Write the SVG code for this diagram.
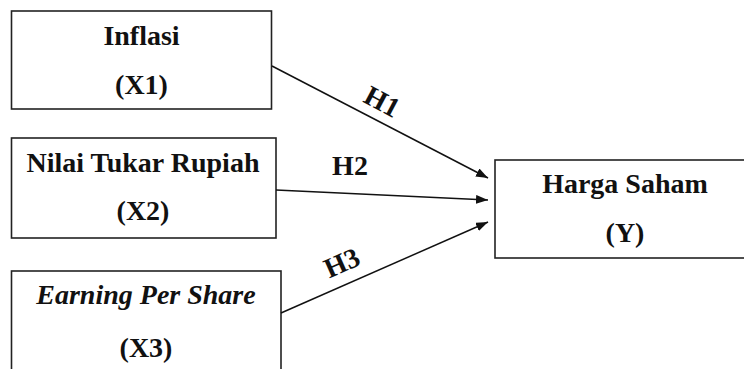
<svg xmlns="http://www.w3.org/2000/svg" width="744" height="369" viewBox="0 0 744 369">
<style>
.box{fill:#fff;stroke:#222;stroke-width:1.6}
.t{font-family:"Liberation Serif","Times New Roman",serif;font-weight:bold;font-size:28px;fill:#111;text-anchor:middle}
.it{font-style:italic}
.c{stroke:#111;stroke-width:1.5;fill:none;marker-end:url(#ah)}
</style>
<defs>
<marker id="ah" markerUnits="userSpaceOnUse" markerWidth="13" markerHeight="10" refX="12" refY="4.5" orient="auto">
<path d="M0,0 L12,4.5 L0,9 z" fill="#111"/>
</marker>
</defs>
<rect width="744" height="369" fill="#fff"/>
<g id="x1">
<rect class="box" x="11.5" y="11" width="260" height="98"/>
<text class="t" x="141.5" y="45">Inflasi</text>
<text class="t" x="141.5" y="94">(X1)</text>
</g>
<g id="x2">
<rect class="box" x="11.5" y="138" width="264.5" height="100"/>
<text class="t" x="143" y="172">Nilai Tukar Rupiah</text>
<text class="t" x="143" y="220">(X2)</text>
</g>
<g id="x3">
<rect class="box" x="11.5" y="271" width="269.5" height="110"/>
<text class="t it" x="146" y="304">Earning Per Share</text>
<text class="t" x="146" y="357">(X3)</text>
</g>
<g id="y">
<rect class="box" x="495" y="160" width="262" height="98"/>
<text class="t" x="625" y="193">Harga Saham</text>
<text class="t" x="625" y="242">(Y)</text>
</g>
<g id="connectors">
<line class="c" x1="272" y1="66" x2="488" y2="178"/>
<line class="c" x1="276" y1="190" x2="488" y2="200"/>
<line class="c" x1="281" y1="313" x2="488" y2="222"/>
<text class="t" transform="translate(382,102) rotate(28)" x="0" y="9">H1</text>
<text class="t" x="350" y="175">H2</text>
<text class="t" transform="translate(342,263) rotate(-24)" x="0" y="9">H3</text>
</g>
</svg>
